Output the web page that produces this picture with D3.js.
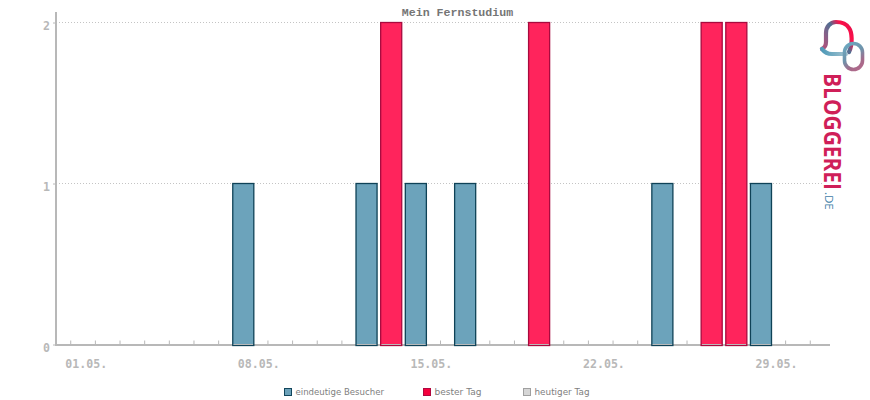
<!DOCTYPE html>
<html>
<head>
<meta charset="utf-8">
<script src="https://cdn.jsdelivr.net/npm/d3@7"></script>
<style>
  html, body { margin: 0; padding: 0; background: #fff; }
  svg { display: block; }
</style>
</head>
<body>
<div id="chart"></div>
<script>
const title = "Mein Fernstudium";
const days = ["01.05.","02.05.","03.05.","04.05.","05.05.","06.05.","07.05.","08.05.","09.05.","10.05.",
  "11.05.","12.05.","13.05.","14.05.","15.05.","16.05.","17.05.","18.05.","19.05.","20.05.",
  "21.05.","22.05.","23.05.","24.05.","25.05.","26.05.","27.05.","28.05.","29.05.","30.05.","31.05."];
const visitors = [0,0,0,0,0,0,0,1,0,0,0,0,1,2,1,0,1,0,0,2,0,0,0,0,1,0,2,2,1,0,0];
const dayLabels = ["01.05.","08.05.","15.05.","22.05.","29.05."];
const yTicks = [0,1,2];
const legendLabels = ["eindeutige Besucher","bester Tag","heutiger Tag"];

const width = 870, height = 400;
const grey = "#b8b8b8";
const mono = "'Liberation Mono', monospace";
const tickFont = "'DejaVu Sans Mono', monospace";

const svg = d3.select("#chart").append("svg")
  .attr("width", width)
  .attr("height", height);

const x = d3.scaleBand().domain(days).range([58.4, 822.6]);
const y = d3.scaleLinear().domain([0, 2]).range([344.5, 22.5]);
const best = d3.max(visitors);
const barData = days.map((d, i) => ({day: d, value: visitors[i]})).filter(d => d.value > 0);

// dotted grid lines
svg.append("g")
  .selectAll("line")
  .data(yTicks.filter(d => d > 0))
  .enter()
  .append("line")
  .attr("x1", 56)
  .attr("x2", 822)
  .attr("y1", d => y(d))
  .attr("y2", d => y(d))
  .style("stroke", "#c4c4c4")
  .style("stroke-dasharray", "1,2");

// axes
const xAxis = d3.axisBottom(x)
  .tickSizeInner(-4)
  .tickSizeOuter(0)
  .tickFormat(d => dayLabels.includes(d) ? d : "");

const gx = svg.append("g")
  .attr("transform", `translate(0,${y(0)})`)
  .call(xAxis);
gx.select(".domain").remove();
gx.selectAll("line").style("stroke", grey);
gx.selectAll("text")
  .attr("dx", 15.5)
  .attr("y", 15)
  .style("font-family", tickFont)
  .style("font-weight", "bold")
  .style("font-size", "11.6px")
  .style("fill", grey);

svg.append("line")
  .attr("x1", 55)
  .attr("x2", 830)
  .attr("y1", 345)
  .attr("y2", 345)
  .style("stroke", grey)
  .style("stroke-width", 2);

const yAxis = d3.axisLeft(y)
  .tickValues(yTicks)
  .tickFormat(d3.format("d"))
  .tickSizeInner(3)
  .tickSizeOuter(0);

const gy = svg.append("g")
  .attr("transform", "translate(56,0)")
  .call(yAxis);
gy.select(".domain").remove();
gy.selectAll("line").style("stroke", grey);
gy.selectAll("text")
  .attr("x", -6)
  .attr("dy", "0.62em")
  .style("font-family", tickFont)
  .style("font-weight", "bold")
  .style("font-size", "11.6px")
  .style("fill", grey);

svg.append("line")
  .attr("x1", 56)
  .attr("x2", 56)
  .attr("y1", 12)
  .attr("y2", 346)
  .style("stroke", grey)
  .style("stroke-width", 2);

// bars
const bars = svg.append("g")
  .selectAll("g")
  .data(barData)
  .enter()
  .append("g");

bars.append("rect")
  .attr("x", d => x(d.day) + 1.8)
  .attr("y", d => y(d.value))
  .attr("width", x.bandwidth() - 3.6)
  .attr("height", d => y(0) - y(d.value) + 1)
  .style("fill", d => d.value === best ? "#ff245c" : "#6ca3bb")
  .style("stroke", d => d.value === best ? "#a80a3e" : "#0f4257")
  .style("stroke-width", 1.3);

// the axis shows through just above the bottom edge of each bar
bars.append("line")
  .attr("x1", d => x(d.day) + 2.6)
  .attr("x2", d => x(d.day) + x.bandwidth() - 2.6)
  .attr("y1", 344.5)
  .attr("y2", 344.5)
  .style("stroke", grey);

// title
svg.append("text")
  .attr("x", 457.5)
  .attr("y", 16)
  .attr("text-anchor", "middle")
  .style("font-family", mono)
  .style("font-weight", "bold")
  .style("font-size", "11.6px")
  .style("fill", "#757575")
  .text(title);

// legend
const legendX = [284, 423, 523];
const legendWidths = [88.5, 47, 55];
const legendFill = ["#6ba1b9", "#f5003d", "#d6d6d6"];
const legendStroke = ["#12465c", "#b0083f", "#a0a0a0"];
const legend = svg.append("g")
  .selectAll("g")
  .data(legendLabels)
  .enter()
  .append("g")
  .attr("transform", (d, i) => `translate(${legendX[i]},392)`);
legend.append("rect")
  .attr("x", 0.5)
  .attr("y", -3.5)
  .attr("width", 7)
  .attr("height", 7)
  .style("fill", (d, i) => legendFill[i])
  .style("stroke", (d, i) => legendStroke[i]);
legend.append("text")
  .attr("x", 11.5)
  .attr("y", 3)
  .attr("textLength", (d, i) => legendWidths[i])
  .attr("lengthAdjust", "spacingAndGlyphs")
  .style("font-family", "'DejaVu Sans', sans-serif")
  .style("font-size", "9px")
  .style("fill", "#808080")
  .text(d => d);

// logo in the top right corner
const defs = svg.append("defs");
const gradient = (id, x1, y1, x2, y2, stops) => {
  const g = defs.append("linearGradient")
    .attr("id", id)
    .attr("gradientUnits", "userSpaceOnUse")
    .attr("x1", x1).attr("y1", y1).attr("x2", x2).attr("y2", y2);
  stops.forEach(s => g.append("stop").attr("offset", s[0]).attr("stop-color", s[1]));
};
gradient("bubble", 824, 48, 852, 28, [[0, "#b0507a"], [0.25, "#8a5f88"], [0.55, "#4f6f92"], [0.8, "#ff0f48"], [1, "#e8104c"]]);
gradient("bubbleBase", 822, 50, 848, 50, [[0, "#4f9ab8"], [1, "#a8c4d0"]]);
gradient("ring", 846, 45, 864, 70, [[0, "#6ba6bf"], [0.4, "#6f93ab"], [0.7, "#a46a8a"], [1, "#b8688c"]]);
gradient("word", 0, 73, 0, 190, [[0, "#cf1f58"], [0.45, "#b0305f"], [0.75, "#71608a"], [1, "#3f6f9a"]]);

const logo = svg.append("g").style("fill", "none").style("stroke-linecap", "round");
logo.append("path")
  .attr("d", "M849,52 C853,44 852,32 849,28 C846,23 841,22 836,22 C830,22 826,27 826,33 L826,42 C826,46 824,48 822,49")
  .style("stroke", "url(#bubble)")
  .style("stroke-width", 4.2);
logo.append("path")
  .attr("d", "M822,49 C825,53 828,54 832,54 L846,54")
  .style("stroke", "url(#bubbleBase)")
  .style("stroke-width", 4.2);
logo.append("rect")
  .attr("x", 844.5)
  .attr("y", 43.5)
  .attr("width", 18)
  .attr("height", 26)
  .attr("rx", 9)
  .style("stroke", "url(#ring)")
  .style("stroke-width", 3.6);

svg.append("text")
  .attr("transform", "translate(823.5,73) rotate(90)")
  .attr("textLength", 117)
  .attr("lengthAdjust", "spacingAndGlyphs")
  .style("font-family", "'Open Sans', sans-serif")
  .style("font-weight", "bold")
  .style("font-size", "23px")
  .style("fill", "url(#word)")
  .text("BLOGGEREI");

svg.append("text")
  .attr("transform", "translate(825,192) rotate(90)")
  .style("font-family", "'Open Sans', sans-serif")
  .style("font-size", "11.5px")
  .style("fill", "#3f80a8")
  .text(".DE");
</script>
</body>
</html>
